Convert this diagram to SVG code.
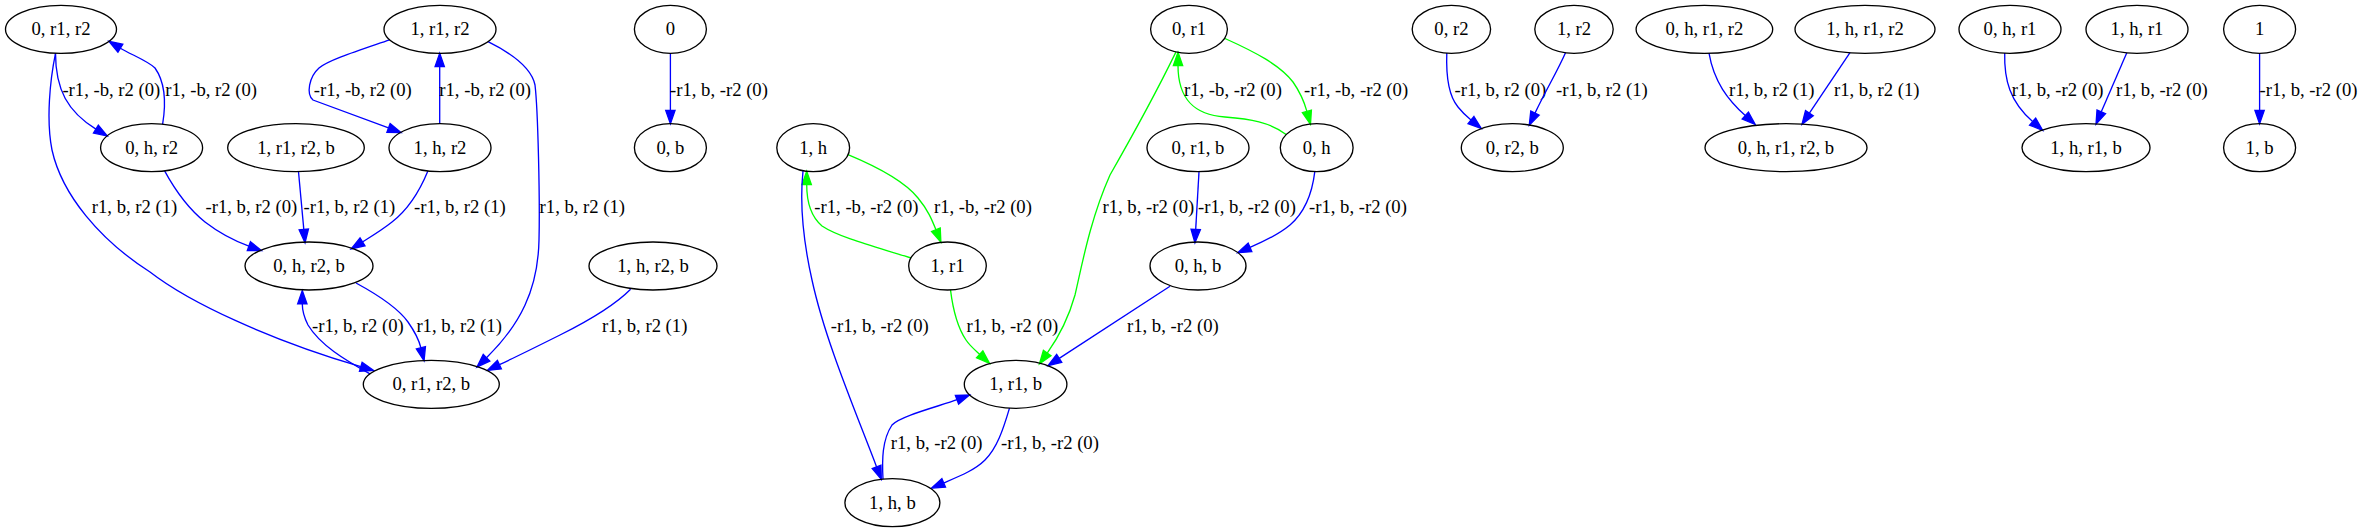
<svg xmlns="http://www.w3.org/2000/svg" width="2363" height="532" viewBox="0 0 2363 532">
<style>
text{font-family:"Liberation Serif","Times New Roman",serif;font-size:18.67px;fill:#000}
.n ellipse{fill:none;stroke:#000;stroke-width:1.33}
.n text{text-anchor:middle}
.e path{fill:none;stroke-width:1.33}
.b{stroke:#0000ff;marker-end:url(#ab)}
.g{stroke:#00ff00;marker-end:url(#ag)}
</style>
<defs>
<marker id="ab" markerUnits="userSpaceOnUse" markerWidth="16" markerHeight="12" refX="1" refY="6" orient="auto" viewBox="0 0 16 12" overflow="visible"><path d="M1,1.33 L14.33,6 L1,10.67 Z" fill="#0000ff" stroke="#0000ff" stroke-width="1.33"/></marker>
<marker id="ag" markerUnits="userSpaceOnUse" markerWidth="16" markerHeight="12" refX="1" refY="6" orient="auto" viewBox="0 0 16 12" overflow="visible"><path d="M1,1.33 L14.33,6 L1,10.67 Z" fill="#00ff00" stroke="#00ff00" stroke-width="1.33"/></marker>
</defs>
<rect width="2363" height="532" fill="#fff"/>
<g id="edges" class="e">
<path class="b" d="M55.5,53.3 C55.5,90 68,112 95.9,129.1"/>
<text x="62.4" y="95.5">-r1, -b, r2 (0)</text>
<path class="b" d="M162.6,124.3 C165,110 167,85 155,68 C148,61 130.7,54.4 120.4,48.2"/>
<text x="165.3" y="95.5">r1, -b, r2 (0)</text>
<path class="b" d="M389.6,39.8 C360,50 328,60 319,68 C309,77 306,94 313,100 L388.5,127.9"/>
<text x="313.8" y="95.5">-r1, -b, r2 (0)</text>
<path class="b" d="M439.7,123.7 L439.7,66.6"/>
<text x="439.3" y="95.5">r1, -b, r2 (0)</text>
<path class="b" d="M488,41.7 C515,55 532,70 535,85 C538,110 540,200 539,240 C538,290 520,325 486.5,357.7"/>
<text x="539.6" y="212.5">r1, b, r2 (1)</text>
<path class="b" d="M55.5,53.3 C50,80 46,120 52,150 C62,195 100,240 150,272 C190,303 270,340 360.8,366.7"/>
<text x="91.8" y="212.5">r1, b, r2 (1)</text>
<path class="b" d="M164.6,170.9 C175,190 190,210 205,222 C218,232 232,240 248.9,246.1"/>
<text x="205.5" y="212.5">-r1, b, r2 (0)</text>
<path class="b" d="M298.5,171.7 L303.8,229.4"/>
<text x="303.5" y="212.5">-r1, b, r2 (1)</text>
<path class="b" d="M427.9,171 C418,195 405,212 392,222 C382,230 372,236 362.5,241.9"/>
<text x="414" y="212.5">-r1, b, r2 (1)</text>
<path class="b" d="M370,373.9 C345,360 320,345 308,325 C303,315 302.3,310 302.3,303.9"/>
<text x="312" y="331.5">-r1, b, r2 (0)</text>
<path class="b" d="M356,283 C380,296 398,308 408,322 C415,332 419,340 420.9,347.8"/>
<text x="416.4" y="331.5">r1, b, r2 (1)</text>
<path class="b" d="M630.6,289.2 C615,305 590,320 560,335 C540,345 520,355 499.4,364.7"/>
<text x="601.9" y="331.5">r1, b, r2 (1)</text>
<path class="b" d="M670.4,53.3 L670.4,110.4"/>
<text x="670" y="95.5">-r1, b, -r2 (0)</text>
<path class="g" d="M848,154.7 C880,168 905,182 918,198 C928,210 932,220 935.9,229.7"/>
<text x="934" y="212.5">r1, -b, -r2 (0)</text>
<path class="g" d="M911,258 C880,248 840,238 822,226 C810,216 806.7,200 806.7,184.6"/>
<text x="814.3" y="212.5">-r1, -b, -r2 (0)</text>
<path class="b" d="M803,171 C800,200 803,240 812,280 C825,340 855,410 876.6,466.9"/>
<text x="830.8" y="331.5">-r1, b, -r2 (0)</text>
<path class="g" d="M1176,51.9 C1155,95 1130,140 1110,175 C1090,220 1082,265 1075,295 C1068,320 1058,338 1047.2,353.1"/>
<text x="1102.5" y="212.5">r1, b, -r2 (0)</text>
<path class="g" d="M1286.5,134.7 C1270,122 1250,119 1225,117 C1195,115 1178,100 1178,65.6"/>
<text x="1184" y="95.5">r1, -b, -r2 (0)</text>
<path class="g" d="M1225,38.5 C1255,52 1280,65 1293,82 C1300,92 1304,101 1306.9,111.4"/>
<text x="1304" y="95.5">-r1, -b, -r2 (0)</text>
<path class="b" d="M1199,171.7 L1195.7,229.4"/>
<text x="1198" y="212.5">-r1, b, -r2 (0)</text>
<path class="b" d="M1314.8,171.6 C1312,195 1305,212 1290,225 C1278,235 1265,241 1250,247.4"/>
<text x="1309" y="212.5">-r1, b, -r2 (0)</text>
<path class="b" d="M1170,286.2 L1059.2,358.4"/>
<text x="1127" y="331.5">r1, b, -r2 (0)</text>
<path class="g" d="M950.5,289.8 C953,310 958,328 966,340 C970,346 975,350 979.7,354.3"/>
<text x="966.6" y="331.5">r1, b, -r2 (0)</text>
<path class="b" d="M883,479.2 C882,460 882,440 892,425 C900,416 940,406 957,399.7"/>
<text x="890.8" y="449">r1, b, -r2 (0)</text>
<path class="b" d="M1009.5,408.1 C1003,430 997,448 985,460 C975,470 960,476 943.7,482.9"/>
<text x="1001" y="449">-r1, b, -r2 (0)</text>
<path class="b" d="M1446.8,53 C1446,75 1448,95 1458,107 C1462,112 1466,116 1471,120.1"/>
<text x="1454.5" y="95.5">-r1, b, r2 (0)</text>
<path class="b" d="M1565.5,52.7 C1558,70 1546,90 1535,113.1"/>
<text x="1556" y="95.5">-r1, b, r2 (1)</text>
<path class="b" d="M1709,53.2 C1714,82 1728,100 1745.3,115.6"/>
<text x="1729" y="95.5">r1, b, r2 (1)</text>
<path class="b" d="M1850,52.7 L1809.4,113.2"/>
<text x="1834" y="95.5">r1, b, r2 (1)</text>
<path class="b" d="M2004.7,53.1 C2004,80 2010,102 2032.6,121.6"/>
<text x="2011.8" y="95.5">r1, b, -r2 (0)</text>
<path class="b" d="M2126.8,52.8 L2101.3,111.8"/>
<text x="2116" y="95.5">r1, b, -r2 (0)</text>
<path class="b" d="M2259.6,53.3 L2259.6,110.4"/>
<text x="2259.6" y="95.5">-r1, b, -r2 (0)</text>
</g>
<g id="n_0r1r2" class="n"><ellipse cx="61" cy="29.3" rx="55.5" ry="24"/><text x="61" y="35.3">0, r1, r2</text></g>
<g id="n_1r1r2" class="n"><ellipse cx="440" cy="29.3" rx="56" ry="24"/><text x="440" y="35.3">1, r1, r2</text></g>
<g id="n_0hr2" class="n"><ellipse cx="151.6" cy="147.7" rx="51" ry="24"/><text x="151.6" y="153.7">0, h, r2</text></g>
<g id="n_1r1r2b" class="n"><ellipse cx="296" cy="147.7" rx="68.3" ry="24"/><text x="296" y="153.7">1, r1, r2, b</text></g>
<g id="n_1hr2" class="n"><ellipse cx="440" cy="147.7" rx="51" ry="24"/><text x="440" y="153.7">1, h, r2</text></g>
<g id="n_0hr2b" class="n"><ellipse cx="309" cy="266" rx="64" ry="24"/><text x="309" y="272">0, h, r2, b</text></g>
<g id="n_1hr2b" class="n"><ellipse cx="653" cy="266" rx="64" ry="24"/><text x="653" y="272">1, h, r2, b</text></g>
<g id="n_0r1r2b" class="n"><ellipse cx="431.3" cy="384.3" rx="68" ry="24"/><text x="431.3" y="390.3">0, r1, r2, b</text></g>
<g id="n_0" class="n"><ellipse cx="670.4" cy="29.3" rx="36" ry="24"/><text x="670.4" y="35.3">0</text></g>
<g id="n_0b" class="n"><ellipse cx="670.4" cy="147.7" rx="36" ry="24"/><text x="670.4" y="153.7">0, b</text></g>
<g id="n_1h" class="n"><ellipse cx="813.2" cy="147.7" rx="36.4" ry="24"/><text x="813.2" y="153.7">1, h</text></g>
<g id="n_1r1" class="n"><ellipse cx="947.5" cy="266" rx="38.8" ry="24"/><text x="947.5" y="272">1, r1</text></g>
<g id="n_1r1b" class="n"><ellipse cx="1015.6" cy="384.3" rx="51.3" ry="24"/><text x="1015.6" y="390.3">1, r1, b</text></g>
<g id="n_1hb" class="n"><ellipse cx="892.4" cy="502.7" rx="47.5" ry="24"/><text x="892.4" y="508.7">1, h, b</text></g>
<g id="n_0r1" class="n"><ellipse cx="1189" cy="29.3" rx="38.4" ry="24"/><text x="1189" y="35.3">0, r1</text></g>
<g id="n_0r1b" class="n"><ellipse cx="1198" cy="147.7" rx="51" ry="24"/><text x="1198" y="153.7">0, r1, b</text></g>
<g id="n_0h" class="n"><ellipse cx="1316.7" cy="147.7" rx="36.4" ry="24"/><text x="1316.7" y="153.7">0, h</text></g>
<g id="n_0hb" class="n"><ellipse cx="1198" cy="266" rx="48" ry="24"/><text x="1198" y="272">0, h, b</text></g>
<g id="n_0r2" class="n"><ellipse cx="1451.4" cy="29.3" rx="39.2" ry="24"/><text x="1451.4" y="35.3">0, r2</text></g>
<g id="n_1r2" class="n"><ellipse cx="1574" cy="29.3" rx="39.2" ry="24"/><text x="1574" y="35.3">1, r2</text></g>
<g id="n_0r2b" class="n"><ellipse cx="1512.3" cy="147.7" rx="51" ry="24"/><text x="1512.3" y="153.7">0, r2, b</text></g>
<g id="n_0hr1r2" class="n"><ellipse cx="1704.4" cy="29.3" rx="68.3" ry="24"/><text x="1704.4" y="35.3">0, h, r1, r2</text></g>
<g id="n_1hr1r2" class="n"><ellipse cx="1865" cy="29.3" rx="70" ry="24"/><text x="1865" y="35.3">1, h, r1, r2</text></g>
<g id="n_0hr1r2b" class="n"><ellipse cx="1786" cy="147.7" rx="81" ry="24"/><text x="1786" y="153.7">0, h, r1, r2, b</text></g>
<g id="n_0hr1" class="n"><ellipse cx="2010" cy="29.3" rx="51" ry="24"/><text x="2010" y="35.3">0, h, r1</text></g>
<g id="n_1hr1" class="n"><ellipse cx="2137" cy="29.3" rx="51" ry="24"/><text x="2137" y="35.3">1, h, r1</text></g>
<g id="n_1hr1b" class="n"><ellipse cx="2086" cy="147.7" rx="64" ry="24"/><text x="2086" y="153.7">1, h, r1, b</text></g>
<g id="n_1" class="n"><ellipse cx="2259.6" cy="29.3" rx="36" ry="24"/><text x="2259.6" y="35.3">1</text></g>
<g id="n_1b" class="n"><ellipse cx="2259.6" cy="147.7" rx="36" ry="24"/><text x="2259.6" y="153.7">1, b</text></g>
</svg>
